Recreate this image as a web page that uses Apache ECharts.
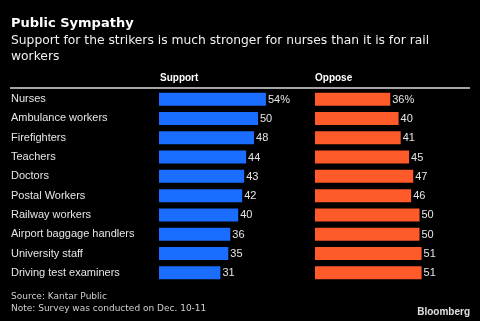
<!DOCTYPE html>
<html>
<head>
<meta charset="utf-8">
<script src="https://cdn.jsdelivr.net/npm/echarts@6/dist/echarts.min.js"></script>
<style>
  html, body { margin: 0; padding: 0; background: #000; }
  #chart { width: 480px; height: 321px; }
</style>
</head>
<body>
<div id="chart"></div>
<script>
// Survey results: share of respondents supporting / opposing each strike group
const groups = [
  'Nurses', 'Ambulance workers', 'Firefighters', 'Teachers', 'Doctors',
  'Postal Workers', 'Railway workers', 'Airport baggage handlers',
  'University staff', 'Driving test examiners'
];
const support = [54, 50, 48, 44, 43, 42, 40, 36, 35, 31];
const oppose = [36, 40, 41, 45, 47, 46, 50, 50, 51, 51];

const BLUE = '#1a6dff';
const ORANGE = '#ff5a29';
const TEXT = '#e6e6e6';
const LABEL_FONT = '"Liberation Sans", Arial, sans-serif';
const HEAD_FONT = '"DejaVu Sans", Verdana, sans-serif';

// first value in each column carries the percent sign
const pctLabel = p => p.dataIndex === 0 ? p.value + '%' : String(p.value);

const chart = echarts.init(document.getElementById('chart'), null, { renderer: 'canvas' });

const gridTop = 89.5;
const gridHeight = 193;

chart.setOption({
  backgroundColor: '#000',
  animation: false,
  grid: [
    { left: 159, top: gridTop, width: 138.6, height: gridHeight },
    { left: 315, top: gridTop, width: 146.3, height: gridHeight }
  ],
  xAxis: [
    { gridIndex: 0, type: 'value', min: 0, max: 70, show: false },
    { gridIndex: 1, type: 'value', min: 0, max: 70, show: false }
  ],
  yAxis: [
    {
      gridIndex: 0, type: 'category', data: groups, inverse: true,
      axisLine: { show: false }, axisTick: { show: false }, splitLine: { show: false },
      axisLabel: {
        align: 'left', margin: 148, color: TEXT,
        fontSize: 11, fontFamily: LABEL_FONT
      }
    },
    {
      gridIndex: 1, type: 'category', data: groups, inverse: true,
      axisLine: { show: false }, axisTick: { show: false }, splitLine: { show: false },
      axisLabel: { show: false }
    }
  ],
  series: [
    {
      type: 'bar', name: 'Support', xAxisIndex: 0, yAxisIndex: 0,
      data: support, barWidth: 13,
      itemStyle: { color: BLUE },
      label: {
        show: true, position: 'right', distance: 2, offset: [0, 0.5],
        color: TEXT, fontSize: 11, fontFamily: LABEL_FONT,
        formatter: pctLabel
      }
    },
    {
      type: 'bar', name: 'Oppose', xAxisIndex: 1, yAxisIndex: 1,
      data: oppose, barWidth: 13,
      itemStyle: { color: ORANGE },
      label: {
        show: true, position: 'right', distance: 2, offset: [0, 0.5],
        color: TEXT, fontSize: 11, fontFamily: LABEL_FONT,
        formatter: pctLabel
      }
    }
  ],
  graphic: [
    {
      type: 'text', left: 11, top: 17,
      style: { text: 'Public Sympathy', fill: '#fff', font: 'bold 13px ' + HEAD_FONT }
    },
    {
      type: 'text', left: 11, top: 33,
      style: {
        text: 'Support for the strikers is much stronger for nurses than it is for rail\nworkers',
        fill: '#f0f0f0', font: '12.3px ' + HEAD_FONT, lineHeight: 16
      }
    },
    {
      type: 'text', left: 160, top: 73,
      style: { text: 'Support', fill: '#fff', font: 'bold 10px ' + LABEL_FONT }
    },
    {
      type: 'text', left: 315, top: 73,
      style: { text: 'Oppose', fill: '#fff', font: 'bold 10px ' + LABEL_FONT }
    },
    {
      type: 'line',
      shape: { x1: 10, y1: 88, x2: 470, y2: 88 },
      style: { stroke: '#ddd', lineWidth: 1.5 }
    },
    {
      type: 'text', left: 11, top: 291,
      style: {
        text: 'Source: Kantar Public\nNote: Survey was conducted on Dec. 10-11',
        fill: '#cfcfcf', font: '9px ' + HEAD_FONT, lineHeight: 12
      }
    },
    {
      type: 'text', right: 10, top: 307,
      style: { text: 'Bloomberg', fill: '#e0e0e0', font: 'bold 10px ' + LABEL_FONT }
    }
  ]
});
</script>
</body>
</html>
